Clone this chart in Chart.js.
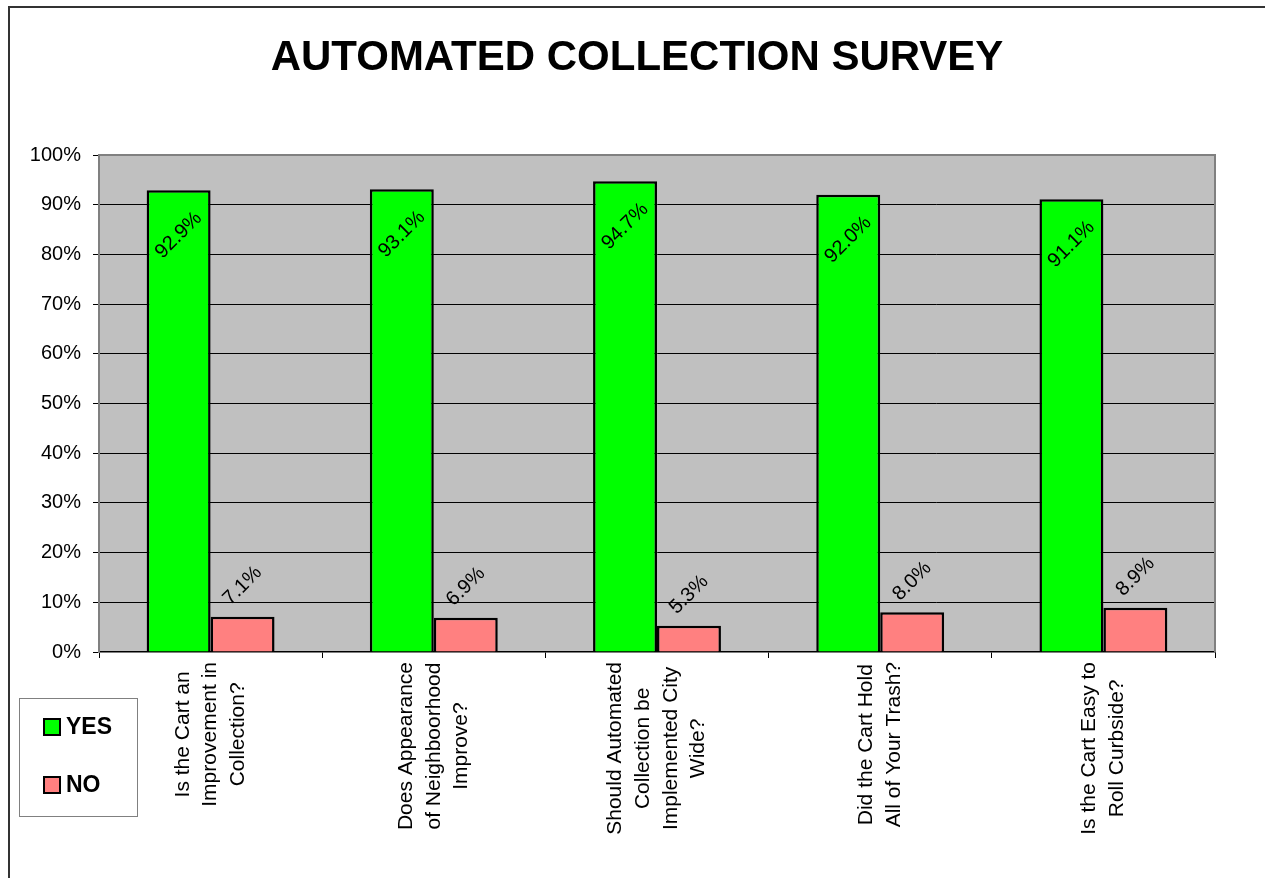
<!DOCTYPE html>
<html>
<head>
<meta charset="utf-8">
<script src="https://cdn.jsdelivr.net/npm/chart.js@4/dist/chart.umd.min.js"></script>
<style>
  html, body { margin: 0; padding: 0; background: #fff; }
  canvas { display: block; }
</style>
</head>
<body>
<canvas id="survey" width="1265" height="878"></canvas>
<script>
// survey data
const categories = [
  ['Is the Cart an', 'Improvement in', 'Collection?'],
  ['Does Appearance', 'of Neighboorhood', 'Improve?'],
  ['Should Automated', 'Collection be', 'Implemented City', 'Wide?'],
  ['Did the Cart Hold', 'All of Your Trash?'],
  ['Is the Cart Easy to', 'Roll Curbside?']
];
const yesValues = [92.9, 93.1, 94.7, 92.0, 91.1];
const noValues = [7.1, 6.9, 5.3, 8.0, 8.9];
const seriesNames = ['YES', 'NO'];
const seriesColors = ['#00FF00', '#FF8080'];
const chartTitle = 'AUTOMATED COLLECTION SURVEY';

const FONT = 'Arial, "Liberation Sans", sans-serif';

// gray plot background, frames, title
const backdrop = {
  id: 'backdrop',
  beforeDraw(chart) {
    const { ctx, chartArea: a } = chart;
    ctx.save();
    ctx.fillStyle = '#fff';
    ctx.fillRect(0, 0, chart.width, chart.height);
    ctx.fillStyle = '#C0C0C0';
    ctx.fillRect(a.left, a.top, a.right - a.left, a.bottom - a.top);
    ctx.restore();
  },
  afterDraw(chart) {
    const { ctx, chartArea: a } = chart;
    ctx.save();
    // plot frame top/right
    ctx.strokeStyle = '#808080';
    ctx.lineWidth = 2;
    ctx.beginPath();
    ctx.moveTo(a.left, a.top);
    ctx.lineTo(a.right, a.top);
    ctx.lineTo(a.right, a.bottom);
    ctx.stroke();
    // outer frame
    ctx.strokeStyle = '#333';
    ctx.lineWidth = 2;
    ctx.strokeRect(9, 7, chart.width + 20, chart.height + 20);
    // title, centred on the page
    ctx.fillStyle = '#000';
    ctx.font = 'bold 42px ' + FONT;
    ctx.textAlign = 'center';
    ctx.textBaseline = 'middle';
    ctx.fillText(chartTitle, 637, 58);
    ctx.restore();
  }
};

// rotated value labels
const valueLabels = {
  id: 'valueLabels',
  afterDatasetsDraw(chart) {
    const { ctx } = chart;
    ctx.save();
    ctx.font = '20px ' + FONT;
    ctx.fillStyle = '#000';
    ctx.textAlign = 'center';
    ctx.textBaseline = 'middle';
    chart.data.datasets.forEach((ds, di) => {
      chart.getDatasetMeta(di).data.forEach((bar, i) => {
        const off = di === 0 ? 45 : -31;
        ctx.save();
        ctx.translate(bar.x, bar.y + off);
        ctx.rotate(-Math.PI / 4);
        ctx.fillText(ds.data[i].toFixed(1) + '%', 0, 0);
        ctx.restore();
      });
    });
    ctx.restore();
  }
};

// vertical, centered category labels
const catLabels = {
  id: 'catLabels',
  afterDraw(chart) {
    const { ctx } = chart;
    const xs = chart.scales.x;
    ctx.save();
    ctx.font = '21px ' + FONT;
    ctx.fillStyle = '#000';
    ctx.textAlign = 'center';
    ctx.textBaseline = 'middle';
    categories.forEach((lines, i) => {
      const cx = xs.getPixelForValue(i);
      const w = Math.max(...lines.map(l => ctx.measureText(l).width));
      const cy = xs.top + 10 + w / 2;
      lines.forEach((line, j) => {
        ctx.save();
        ctx.translate(cx + (j - (lines.length - 1) / 2) * 27.8, cy);
        ctx.rotate(-Math.PI / 2);
        ctx.fillText(line, 0, 0);
        ctx.restore();
      });
    });
    ctx.restore();
  }
};

// boxed legend bottom-left
const boxLegend = {
  id: 'boxLegend',
  afterDraw(chart) {
    const { ctx } = chart;
    ctx.save();
    ctx.strokeStyle = '#808080';
    ctx.lineWidth = 1;
    ctx.strokeRect(19.5, 698.5, 118, 118);
    ctx.font = 'bold 23px ' + FONT;
    ctx.textBaseline = 'middle';
    seriesNames.forEach((name, i) => {
      const y = 719 + i * 58;
      ctx.fillStyle = seriesColors[i];
      ctx.fillRect(44, y, 16, 16);
      ctx.strokeStyle = '#000';
      ctx.lineWidth = 2;
      ctx.strokeRect(44, y, 16, 16);
      ctx.fillStyle = '#000';
      ctx.fillText(name, 66, y + 9);
    });
    ctx.restore();
  }
};

new Chart(document.getElementById('survey'), {
  type: 'bar',
  data: {
    labels: categories,
    datasets: [
      { label: seriesNames[0], data: yesValues, backgroundColor: seriesColors[0] },
      { label: seriesNames[1], data: noValues, backgroundColor: seriesColors[1] }
    ]
  },
  options: {
    responsive: false,
    animation: false,
    layout: { padding: { left: 0, right: 50, bottom: 26, top: 155 } },
    datasets: {
      bar: {
        borderColor: '#000',
        borderWidth: 2.5,
        barPercentage: 1,
        categoryPercentage: 0.573
      }
    },
    plugins: {
      legend: { display: false },
      tooltip: { enabled: false },
      title: { display: false }
    },
    scales: {
      x: {
        ticks: { display: false },
        grid: { drawOnChartArea: false, drawTicks: true, tickLength: 6, color: '#000', offset: true },
        border: { color: '#000', width: 1.5 },
        afterFit(s) { s.height = 200; }
      },
      y: {
        min: 0,
        max: 100,
        ticks: {
          stepSize: 10,
          color: '#000',
          padding: 12,
          font: { family: FONT, size: 20 },
          callback: v => v + '%'
        },
        grid: {
          color: c => (c.tick && (c.tick.value === 100 || c.tick.value === 0)) ? 'rgba(0,0,0,0)' : '#000',
          tickColor: '#000',
          tickLength: 6,
          lineWidth: 1
        },
        border: { color: '#808080', width: 2 },
        afterFit(s) { s.width = 99; }
      }
    }
  },
  plugins: [backdrop, valueLabels, catLabels, boxLegend]
});
</script>
</body>
</html>
